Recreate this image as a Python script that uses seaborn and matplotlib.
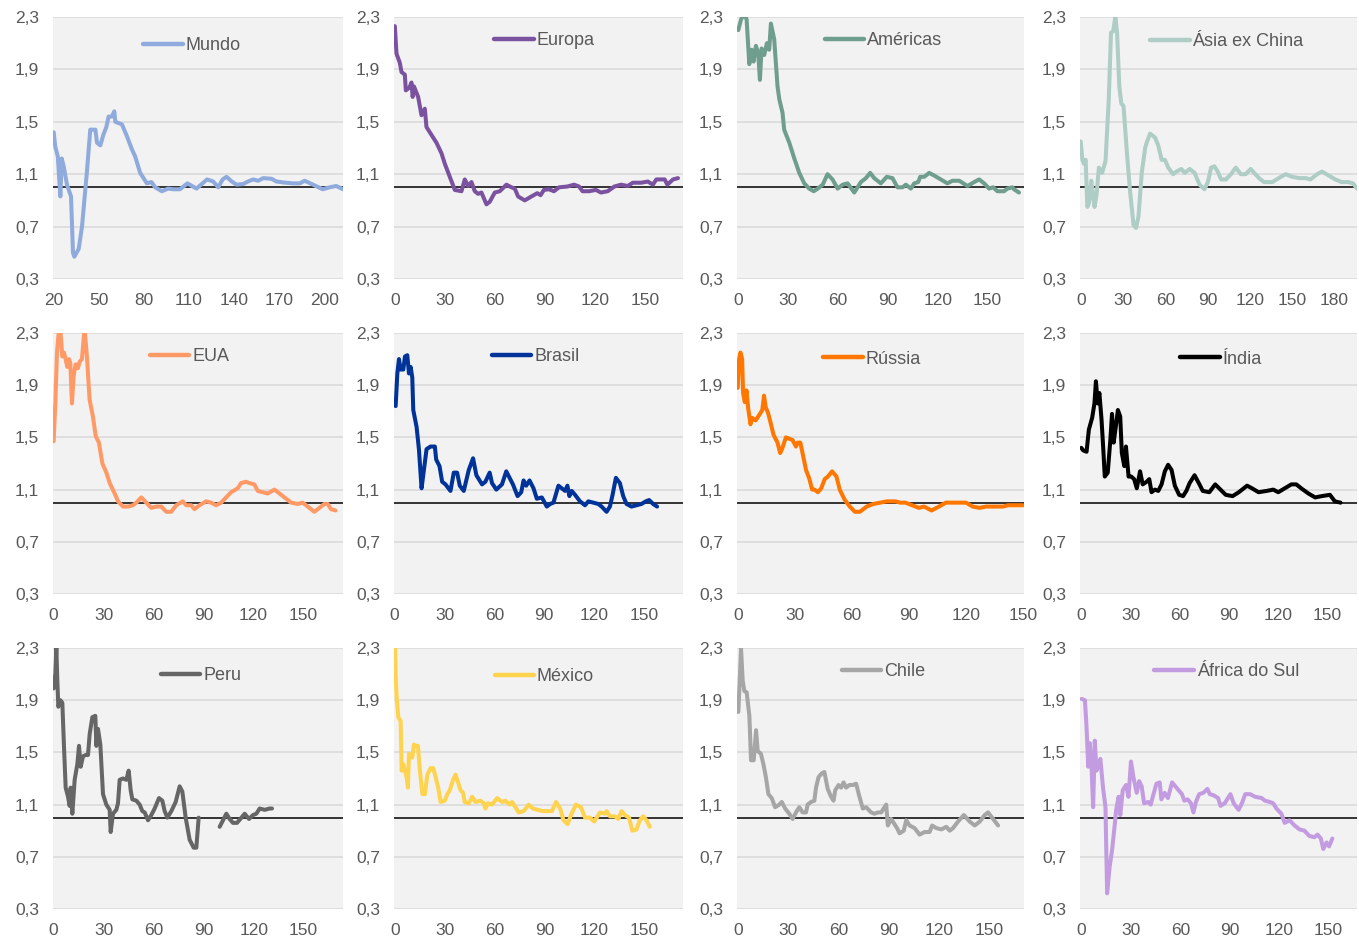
import matplotlib
matplotlib.use("Agg")
import matplotlib.pyplot as plt
from matplotlib.lines import Line2D
import numpy as np
import pandas as pd
import seaborn as sns

# values (x = day, y = ratio); NaN marks a gap in the series
mundo_x = [20, 21, 22.7, 24, 24.4, 25.3, 26.6, 28.8, 31.5, 32.8, 33.7, 36.6, 38.8, 42, 44.3, 47.7, 48.8, 51,
           53, 55, 56.5, 58.7, 60.3, 61, 65.4, 68.7, 72, 74.2, 77.5, 82, 85, 87.5, 92, 96, 99.6, 104, 109,
           115, 122, 126, 129.5, 132.4, 135, 138.4, 141.7, 146, 149.4, 152.7, 156, 159.4, 165, 168, 172.7,
           179.3, 183.7, 187, 192.6, 199, 203.6, 208, 212.5]
mundo_y = [1.42, 1.31, 1.235, 1.0, 0.93, 1.22, 1.16, 1.02, 0.93, 0.50, 0.47, 0.53, 0.70, 1.11, 1.44, 1.44,
           1.34, 1.32, 1.40, 1.46, 1.54, 1.54, 1.58, 1.50, 1.48, 1.39, 1.29, 1.235, 1.11, 1.03, 1.04, 1.0,
           0.97, 0.99, 0.985, 0.985, 1.03, 0.99, 1.06, 1.045, 1.0, 1.06, 1.08, 1.045, 1.02, 1.025, 1.045,
           1.06, 1.05, 1.07, 1.065, 1.045, 1.037, 1.03, 1.03, 1.05, 1.02, 0.985, 1.0, 1.01, 0.985]

europa_x = [0, 1, 3, 4, 6, 6.6, 8.7, 10, 10.7, 11.5, 14, 16, 18, 19, 22, 25, 28, 30, 33, 36, 40, 42, 44, 46,
            48, 50, 52, 55, 57, 60, 63, 67, 70, 72, 74, 78, 82, 85.5, 87.5, 89.5, 92.5, 95.5, 98.6, 103.6,
            107.6, 110.6, 112.7, 116.7, 120.7, 123.7, 127.8, 131.8, 135.8, 139.8, 142.9, 147.9, 151.9,
            154.9, 157, 160, 162, 163.6, 167, 170]
europa_y = [2.23, 2.02, 1.95, 1.88, 1.86, 1.74, 1.76, 1.80, 1.69, 1.77, 1.69, 1.55, 1.60, 1.46, 1.40, 1.34,
            1.26, 1.18, 1.08, 0.98, 0.97, 1.06, 1.01, 1.04, 0.97, 0.95, 0.96, 0.87, 0.89, 0.96, 0.97, 1.02,
            1.0, 0.99, 0.93, 0.90, 0.93, 0.955, 0.94, 0.98, 0.985, 0.97, 1.0, 1.006, 1.02, 1.006, 0.97,
            0.97, 0.98, 0.96, 0.97, 1.006, 1.02, 1.01, 1.035, 1.035, 1.044, 1.02, 1.06, 1.06, 1.06, 1.02,
            1.06, 1.07]

americas_x = [0, 1.6, 3.6, 5, 6.6, 8, 9.2, 10.6, 12, 13, 14, 15.6, 17.2, 18.6, 19.6, 21.6, 23.6, 24.7,
              26.6, 27.6, 30.7, 33.7, 36.7, 39.7, 42.7, 45.4, 47.8, 50.8, 53.7, 56.7, 59.8, 62.8, 65.8,
              69.8, 73.8, 76.8, 79.4, 81.8, 85.8, 89.4, 92.8, 95.8, 98.9, 100.9, 103.9, 105.9, 108.3,
              109.5, 111.9, 114.9, 117.9, 121.9, 125.9, 128.9, 133, 138, 142, 145, 148, 151, 153.4, 156,
              160, 162, 165, 166, 169]
americas_y = [2.20, 2.28, 2.33, 2.28, 1.94, 2.05, 1.96, 2.08, 2.02, 1.82, 2.06, 2.01, 2.10, 2.05, 2.25,
              2.13, 1.77, 1.67, 1.57, 1.44, 1.34, 1.22, 1.11, 1.03, 0.99, 0.97, 0.99, 1.02, 1.10, 1.06,
              0.99, 1.02, 1.03, 0.96, 1.04, 1.07, 1.11, 1.07, 1.03, 1.08, 1.07, 1.0, 1.0, 1.02, 0.99, 1.03,
              1.04, 1.08, 1.08, 1.11, 1.09, 1.06, 1.03, 1.05, 1.05, 1.01, 1.04, 1.06, 1.03, 0.99, 1.0,
              0.97, 0.97, 0.99, 1.0, 0.985, 0.96]

asia_x = [0, 1.2, 2.3, 3.5, 4.7, 5.9, 7.5, 8.9, 9.8, 11.2, 12.9, 15.2, 17.6, 19.9, 21.5, 23, 24.6, 25.8,
          27.4, 28.8, 30.4, 32.8, 35.1, 37.5, 39.3, 41, 43.3, 45.7, 46.8, 49.2, 52.7, 55, 57.4, 59.7,
          62.1, 65.6, 67.9, 71.4, 73.8, 77.3, 80.8, 84.3, 87.8, 90.2, 92.5, 94.8, 97.2, 99.6, 103, 106.6,
          110, 113.6, 117, 120.6, 123, 126.5, 130, 136, 142, 145.5, 150, 155, 159.7, 163, 167.7, 171.2,
          175.9, 180.6, 185, 189.7, 193.2, 196]
asia_y = [1.35, 1.21, 1.18, 1.21, 0.85, 0.88, 1.05, 0.93, 0.85, 0.94, 1.15, 1.11, 1.20, 1.67, 2.18, 2.19,
          2.30, 2.18, 1.77, 1.64, 1.62, 1.26, 0.96, 0.71, 0.69, 0.78, 1.11, 1.30, 1.34, 1.41, 1.38, 1.32,
          1.21, 1.21, 1.15, 1.10, 1.12, 1.14, 1.11, 1.14, 1.11, 1.02, 0.985, 1.04, 1.15, 1.16, 1.12, 1.06,
          1.06, 1.10, 1.15, 1.10, 1.10, 1.14, 1.11, 1.07, 1.04, 1.04, 1.08, 1.10, 1.08, 1.07, 1.07, 1.06,
          1.10, 1.12, 1.09, 1.06, 1.04, 1.04, 1.03, 0.99]

eua_x = [0, 1, 2, 3, 4, 5.2, 6.2, 7.2, 8.2, 9.2, 10, 11, 12, 13.2, 14.6, 15.6, 17, 18, 18.6, 20, 21.6,
         23.6, 25.3, 27.2, 29.3, 31.7, 33.7, 36.7, 38.7, 41.7, 44.7, 47.7, 49.7, 52.7, 55.7, 58.7, 61.7,
         64.7, 67.7, 70.7, 73.7, 77.7, 79.7, 82.7, 84.7, 87.7, 91.7, 94.7, 97.7, 100.7, 103.7, 106.7,
         110.7, 112.7, 115.7, 117.7, 120.7, 122.7, 125.7, 128.7, 132.8, 135.8, 138.8, 142.8, 146.8,
         149.8, 152.8, 156.8, 159.8, 162.8, 164.8, 166.8, 169.5]
eua_y = [1.47, 1.76, 2.15, 2.30, 2.33, 2.12, 2.15, 2.10, 2.04, 2.10, 2.07, 1.76, 1.97, 2.06, 2.03, 2.08,
         2.10, 2.25, 2.33, 2.12, 1.79, 1.66, 1.51, 1.46, 1.30, 1.23, 1.15, 1.07, 1.01, 0.97, 0.97, 0.98,
         1.0, 1.04, 1.0, 0.96, 0.97, 0.97, 0.93, 0.93, 0.98, 1.01, 0.98, 0.98, 0.95, 0.98, 1.01, 1.0,
         0.98, 1.0, 1.04, 1.08, 1.11, 1.15, 1.16, 1.15, 1.14, 1.09, 1.08, 1.07, 1.10, 1.07, 1.04, 1.0,
         0.99, 1.0, 0.97, 0.93, 0.96, 0.99, 0.99, 0.95, 0.94]

brasil_x = [0.6, 1.6, 2.6, 3.6, 5.2, 6.2, 7.6, 8.6, 9.6, 10.6, 11.2, 13.2, 14.6, 16.2, 17.6, 19.2, 21.6,
            24.2, 25, 27, 28.6, 30.6, 33.6, 35.6, 37.6, 39.2, 41.6, 44.6, 47.2, 49.2, 52.6, 54.6, 57.2,
            58.6, 61.2, 64.6, 67.2, 69.6, 71.2, 74, 76.2, 77.6, 79.2, 81.2, 83.6, 85.6, 88.6, 91.6, 93.6,
            95.6, 98.6, 100.6, 102.6, 104, 105.2, 106.6, 108.6, 111.6, 114.6, 116.6, 119.6, 122.6, 124.6,
            127.6, 129.6, 131.2, 133.2, 135.6, 137.6, 139.6, 142.6, 145.6, 148.6, 151.2, 153.2, 155.6, 158]
brasil_y = [1.74, 1.99, 2.10, 2.02, 2.02, 2.12, 2.13, 1.99, 2.04, 1.96, 1.71, 1.58, 1.41, 1.11, 1.25, 1.41,
            1.43, 1.43, 1.33, 1.28, 1.16, 1.14, 1.09, 1.23, 1.23, 1.13, 1.09, 1.25, 1.34, 1.21, 1.14, 1.16,
            1.23, 1.15, 1.10, 1.14, 1.24, 1.18, 1.14, 1.05, 1.08, 1.17, 1.13, 1.17, 1.11, 1.03, 1.04, 0.97,
            0.99, 1.0, 1.13, 1.11, 1.09, 1.13, 1.05, 1.09, 1.06, 1.01, 0.98, 1.01, 1.0, 0.99, 0.97, 0.93,
            0.97, 1.06, 1.19, 1.15, 1.05, 0.99, 0.97, 0.98, 0.99, 1.01, 1.02, 0.99, 0.97]

russia_x = [0, 0.7, 1.4, 2.3, 2.8, 3.7, 4.6, 5.5, 6.7, 7.6, 9.4, 11.2, 12.9, 13.8, 14.7, 15.9, 17.3, 18.8,
            20.9, 22.3, 23.5, 25.3, 27.1, 28.8, 30.6, 31.5, 32.9, 34.2, 35.9, 37.7, 39.1, 40.4, 42.1, 43.9,
            45.7, 47.4, 49.6, 51.9, 53.6, 56.3, 58.9, 61.6, 64.2, 67.8, 71.3, 74.9, 78.4, 82.8, 85.5, 88.1,
            91.7, 95.2, 97.9, 101.9, 105.8, 109.4, 113.8, 120, 123.5, 127, 130.6, 135.9, 139.5, 142.1,
            146.5, 150]
russia_y = [1.88, 2.10, 2.15, 2.10, 1.84, 1.77, 1.86, 1.72, 1.60, 1.65, 1.63, 1.67, 1.71, 1.82, 1.73, 1.69,
            1.61, 1.52, 1.46, 1.38, 1.42, 1.50, 1.49, 1.48, 1.43, 1.46, 1.46, 1.37, 1.25, 1.18, 1.10, 1.10,
            1.08, 1.11, 1.18, 1.20, 1.24, 1.20, 1.10, 1.02, 0.97, 0.93, 0.93, 0.97, 0.99, 1.0, 1.01, 1.01,
            1.0, 1.0, 0.98, 0.96, 0.97, 0.94, 0.97, 1.0, 1.0, 1.0, 0.97, 0.96, 0.97, 0.97, 0.97, 0.98, 0.98,
            0.98]

india_x = [0, 1.2, 3.2, 4.6, 6.6, 8, 8.9, 10, 11, 12.3, 13.3, 14.3, 16.1, 17.7, 18.7, 19.7, 21.1, 22.3,
           23.7, 24.7, 26.2, 27.2, 28.8, 30.4, 32.2, 33.8, 35.8, 37.4, 39.8, 41.4, 42.8, 44.9, 46.9, 48.9,
           50.9, 52.9, 55, 57, 59.6, 62, 64, 66, 69, 72, 74, 78, 81.6, 84, 88, 92.2, 96, 101, 104, 108, 113,
           117, 120, 124, 128, 131, 134, 138.4, 142.5, 146.5, 151.5, 154.5, 158]
india_y = [1.42, 1.40, 1.39, 1.56, 1.65, 1.76, 1.93, 1.76, 1.84, 1.64, 1.43, 1.20, 1.23, 1.48, 1.68, 1.46,
           1.59, 1.71, 1.66, 1.38, 1.28, 1.43, 1.20, 1.20, 1.18, 1.11, 1.24, 1.14, 1.16, 1.18, 1.08, 1.10,
           1.09, 1.14, 1.24, 1.29, 1.25, 1.13, 1.06, 1.05, 1.09, 1.15, 1.21, 1.14, 1.09, 1.08, 1.14, 1.11,
           1.06, 1.05, 1.08, 1.13, 1.11, 1.08, 1.09, 1.10, 1.08, 1.11, 1.14, 1.14, 1.11, 1.07, 1.04, 1.05,
           1.06, 1.01, 1.0]

peru_x = [0, 1, 1.6, 2.2, 2.8, 4, 5.2, 6.2, 7.2, 8.6, 9.6, 10.2, 11.2, 12.6, 14.2, 15.2, 16.2, 17.6, 19.2,
          20.6, 21.6, 23.2, 25, 25.6, 26.6, 28, 29.6, 31.6, 33.6, 34.2, 35.6, 37.6, 38.6, 39.6, 41.6, 43.6,
          45, 46.2, 47.2, 49.6, 51.6, 53.2, 54.6, 56.6, 58.6, 60.6, 63.2, 65.2, 66.6, 68.2, 70.6, 73.2,
          75.6, 77.2, 79.2, 81.6, 84, 85.6, 87, np.nan, 99.6, 101.6, 103.6, 105.6, 107.6, 110, 112, 114.6,
          117.2, 119.6, 121.6, 123.6, 126.6, 129.6, 131]
peru_y = [1.99, 2.10, 2.30, 2.05, 1.85, 1.90, 1.88, 1.54, 1.23, 1.16, 1.09, 1.23, 1.03, 1.29, 1.41, 1.55,
          1.39, 1.47, 1.48, 1.48, 1.64, 1.77, 1.78, 1.55, 1.68, 1.56, 1.18, 1.10, 1.06, 0.89, 1.03, 1.06,
          1.11, 1.29, 1.30, 1.29, 1.36, 1.21, 1.14, 1.13, 1.10, 1.05, 1.04, 0.98, 1.02, 1.07, 1.15, 1.13,
          1.05, 1.0, 1.05, 1.12, 1.24, 1.20, 1.0, 0.83, 0.77, 0.77, 1.0, np.nan, 0.93, 0.98, 1.03, 0.99,
          0.96, 0.96, 0.99, 1.03, 0.99, 1.02, 1.03, 1.07, 1.06, 1.07, 1.07]

mexico_x = [0, 0.4, 1, 2, 3.4, 4, 5, 6, 7, 7.8, 8.4, 9.4, 10.4, 11.4, 12.4, 13.8, 15, 16.5, 18, 19.5, 21.5,
            23, 24.5, 26, 27.5, 30, 31.5, 33, 35, 36.5, 38, 39.5, 41, 42, 44.5, 46.5, 48.5, 51.5, 53.5, 54.5,
            56, 58.5, 61.5, 64.5, 66.5, 69, 70.5, 72.5, 74.5, 77.5, 80.5, 83, 86, 89, 91.5, 94.5, 97, 99.5,
            101.5, 104, 106, 109, 112, 114.5, 117.5, 120, 123.5, 126.5, 127.5, 129.5, 132.5, 134.5, 136.5,
            138.5, 141, 143, 145.5, 147.5, 149.5, 151.5, 153.5]
mexico_y = [2.32, 2.10, 1.92, 1.77, 1.74, 1.36, 1.41, 1.36, 1.31, 1.23, 1.49, 1.47, 1.46, 1.56, 1.55, 1.55,
            1.36, 1.18, 1.18, 1.33, 1.38, 1.38, 1.31, 1.23, 1.12, 1.13, 1.18, 1.21, 1.29, 1.33, 1.27, 1.21,
            1.19, 1.12, 1.11, 1.16, 1.12, 1.13, 1.11, 1.07, 1.11, 1.10, 1.15, 1.12, 1.13, 1.10, 1.12, 1.08,
            1.04, 1.05, 1.10, 1.07, 1.06, 1.05, 1.05, 1.05, 1.12, 1.07, 0.98, 0.95, 1.02, 1.10, 1.08, 1.0,
            1.0, 0.97, 1.04, 1.03, 1.05, 1.01, 1.01, 0.99, 1.05, 1.02, 1.0, 0.90, 0.91, 0.98, 1.01, 0.98,
            0.93]

chile_x = [0, 1, 1.6, 2.6, 3.6, 5, 6.6, 7.6, 9.2, 10.6, 11.6, 13.5, 15, 16.5, 18, 20, 22, 24.5, 26, 28,
           30.5, 32.5, 34.5, 36.5, 38.5, 40.5, 41.5, 43.5, 45.5, 46.5, 48, 50, 51.5, 53.5, 55.5, 57, 58, 60,
           61.5, 63, 64.5, 66.5, 68.5, 70.5, 72.5, 74.5, 76.5, 79.5, 81.5, 83.5, 85.5, 87, 88.5, 89.5, 91.5,
           93.5, 95, 96.5, 99, 100.5, 102.5, 105.5, 108.5, 111.5, 114.5, 116, 118.5, 121.5, 124.5, 126.5,
           128.5, 131.5, 135, 138.5, 141.5, 144.5, 147.5, 149.5, 152.5, 155.5]
chile_y = [1.81, 2.10, 2.30, 2.05, 1.97, 1.96, 1.78, 1.44, 1.44, 1.67, 1.51, 1.49, 1.41, 1.31, 1.18, 1.15,
           1.08, 1.10, 1.12, 1.07, 1.03, 0.99, 1.04, 1.08, 1.04, 1.04, 1.10, 1.12, 1.13, 1.23, 1.31, 1.34,
           1.35, 1.22, 1.16, 1.13, 1.21, 1.25, 1.23, 1.27, 1.23, 1.25, 1.25, 1.26, 1.16, 1.07, 1.08, 1.04,
           1.03, 1.04, 1.04, 1.07, 1.10, 0.94, 0.99, 0.95, 0.92, 0.88, 0.90, 0.98, 0.94, 0.92, 0.87, 0.89,
           0.89, 0.94, 0.92, 0.91, 0.93, 0.90, 0.92, 0.97, 1.02, 0.97, 0.94, 0.97, 1.02, 1.04, 0.99, 0.94]

africa_x = [0, 2, 3, 4, 5, 6, 7, 8, 9, 10.4, 11.4, 13, 14.5, 15.5, 17, 18.5, 20, 21, 22.5, 23.5, 25, 27,
            28.5, 30, 31.5, 33.5, 35, 36.5, 38, 40.5, 42, 43.5, 45.5, 47.5, 48.5, 50.5, 52.5, 55, 57, 59, 61,
            62.5, 64.5, 66.5, 68, 69.5, 71.5, 74, 76.5, 78, 80.5, 83, 84.5, 87, 89, 90.5, 92.5, 95.5, 97.5,
            99.5, 102.5, 105.5, 109.5, 111.5, 114.5, 116.5, 118.5, 121.5, 123.5, 126.5, 129.5, 132.5, 135.5,
            138.5, 141.5, 143.5, 145.5, 147, 149, 150.5, 152.5]
africa_y = [1.91, 1.90, 1.69, 1.39, 1.57, 1.39, 1.08, 1.59, 1.36, 1.41, 1.45, 1.23, 1.08, 0.42, 0.62, 0.75,
            0.93, 1.06, 1.16, 1.02, 1.21, 1.25, 1.16, 1.43, 1.31, 1.19, 1.28, 1.24, 1.11, 1.12, 1.10, 1.17,
            1.26, 1.27, 1.14, 1.19, 1.15, 1.27, 1.24, 1.21, 1.18, 1.13, 1.14, 1.11, 1.04, 1.12, 1.18, 1.19,
            1.22, 1.18, 1.17, 1.15, 1.09, 1.11, 1.15, 1.18, 1.11, 1.06, 1.11, 1.18, 1.18, 1.16, 1.15, 1.13,
            1.12, 1.11, 1.07, 1.03, 0.96, 0.98, 0.94, 0.91, 0.90, 0.86, 0.85, 0.87, 0.84, 0.76, 0.81, 0.78,
            0.84]

names = ["Mundo", "Europa", "Américas", "Ásia ex China",
         "EUA", "Brasil", "Rússia", "Índia",
         "Peru", "México", "Chile", "África do Sul"]
series = [(mundo_x, mundo_y), (europa_x, europa_y), (americas_x, americas_y), (asia_x, asia_y),
          (eua_x, eua_y), (brasil_x, brasil_y), (russia_x, russia_y), (india_x, india_y),
          (peru_x, peru_y), (mexico_x, mexico_y), (chile_x, chile_y), (africa_x, africa_y)]
x_ticks = [list(range(20, 201, 30)), list(range(0, 151, 30)), list(range(0, 151, 30)), list(range(0, 181, 30))] \
    + [list(range(0, 151, 30))] * 8
y_ticks = [0.3, 0.7, 1.1, 1.5, 1.9, 2.3]

# styling / layout
colors = ["#8faadc", "#7b52a0", "#6f9e8f", "#aecdc4",
          "#ff9a66", "#003399", "#ff7700", "#000000",
          "#666666", "#ffd34e", "#a6a6a6", "#c39be1"]
x_limits = [(19.5, 212.5), (-0.5, 173), (-0.8, 172), (-0.5, 196),
            (-0.4, 174), (-0.4, 173.6), (-0.4, 150.5), (-0.8, 168),
            (-0.4, 173.6), (-0.6, 173.5), (-0.8, 171), (-1, 167.5)]
legend_xy = [(0.48, 0.89), (0.52, 0.91), (0.51, 0.91), (0.53, 0.905),
             (0.47, 0.91), (0.49, 0.91), (0.47, 0.90), (0.51, 0.90),
             (0.51, 0.895), (0.52, 0.89), (0.51, 0.91), (0.53, 0.91)]

W, H = 1359, 942
col_left = [53, 394, 737, 1080]
col_right = [343, 683, 1024, 1357]
row_top = [17, 333, 648]
row_bottom = [279, 594, 909]

sns.set_theme(style="white")
plt.rcParams["font.family"] = ["Liberation Sans", "DejaVu Sans"]

fig, axes = plt.subplots(3, 4, figsize=(W / 100, H / 100), dpi=100)

for i, ax in enumerate(axes.flat):
    r, c = divmod(i, 4)
    ax.set_position([col_left[c] / W, 1 - row_bottom[r] / H,
                     (col_right[c] - col_left[c]) / W, (row_bottom[r] - row_top[r]) / H])

    xs, ys = series[i]
    df = pd.DataFrame({"x": xs, "y": ys})
    df["seg"] = df["x"].isna().cumsum()
    df = df.dropna()

    ax.set_facecolor("#f2f2f2")
    for v in y_ticks:
        ax.axhline(v, color="#d9d9d9", lw=1.1, zorder=0)
    ax.axhline(1.0, color="black", lw=1.1, zorder=1)

    sns.lineplot(data=df, x="x", y="y", units="seg", estimator=None, ax=ax,
                 color=colors[i], lw=2.9, solid_joinstyle="round", solid_capstyle="round", zorder=3)

    ax.set_xlim(*x_limits[i])
    ax.set_ylim(0.3, 2.3)
    ax.set_xticks(x_ticks[i])
    ax.set_xticklabels([str(t) for t in x_ticks[i]])
    ax.set_yticks(y_ticks)
    ax.set_yticklabels([f"{v:.1f}".replace(".", ",") for v in y_ticks])
    ax.tick_params(axis="both", length=0, pad=10, labelsize=12.5, labelcolor="#595959")
    ax.set(xlabel="", ylabel="")
    ax.grid(False)
    sns.despine(ax=ax, left=True, bottom=True)

    handle = Line2D([0], [0], color=colors[i], lw=3.2)
    ax.legend([handle], [names[i]], loc="center", bbox_to_anchor=legend_xy[i], frameon=False,
              handlelength=2.2, handletextpad=0.15, fontsize=13, labelcolor="#595959",
              borderpad=0, borderaxespad=0)

fig.savefig("out.png", dpi=100, facecolor="white")
